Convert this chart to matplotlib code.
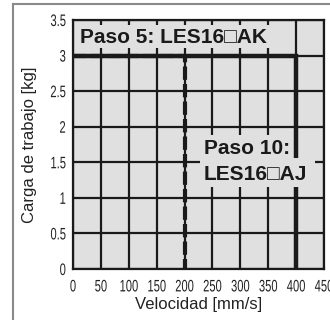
import matplotlib
matplotlib.use("Agg")
import matplotlib.pyplot as plt
from matplotlib.lines import Line2D
from matplotlib.patches import Rectangle
from matplotlib.patheffects import AbstractPathEffect
from matplotlib.transforms import Affine2D

# Load limit curves for the two lead variants
speed_lead10 = [0, 400, 400]
load_lead10 = [3, 3, 0]
speed_lead5 = [0, 200, 200]
load_lead5 = [3, 3, 0]

x_ticks = [0, 50, 100, 150, 200, 250, 300, 350, 400, 450]
y_ticks = [0, 0.5, 1, 1.5, 2, 2.5, 3, 3.5]
y_tick_labels = ["0", "0.5", "1", "1.5", "2", "2.5", "3", "3.5"]

label_lead5 = "Paso 5: LES16\u25a1AK"
label_lead10_a = "Paso 10:"
label_lead10_b = "LES16\u25a1AJ"

BG = "#e0e0e0"
INK = "#1a1a1a"
SANS = ["Liberation Sans", "DejaVu Sans"]


class Squeeze(AbstractPathEffect):
    """Draw text horizontally condensed, keeping a chosen anchor fixed."""

    def __init__(self, sx=0.72, anchor="center"):
        super().__init__()
        self.sx = sx
        self.anchor = anchor

    def draw_path(self, renderer, gc, tpath, affine, rgbFace=None):
        ext = tpath.get_extents()
        x0, x1 = ext.x0, ext.x1
        if self.anchor == "center":
            fx = (x0 + x1) / 2
        elif self.anchor == "right":
            fx = x1
        else:
            fx = x0
        squeeze = Affine2D().translate(-fx, 0).scale(self.sx, 1).translate(fx, 0)
        renderer.draw_path(gc, tpath, squeeze + affine, rgbFace)


fig = plt.figure(figsize=(3.3, 3.2), dpi=100)
ax = fig.add_axes([73 / 330, 1 - 269 / 320, (324 - 73) / 330, (269 - 20) / 320])
ax.set_facecolor(BG)
ax.set_xlim(0, 450)
ax.set_ylim(0, 3.5)

ax.set_xticks(x_ticks)
ax.set_xticklabels([str(v) for v in x_ticks], family=SANS, fontsize=12)
ax.set_yticks(y_ticks)
ax.set_yticklabels(y_tick_labels, family=SANS, fontsize=12)
ax.tick_params(axis="x", length=0, pad=7.5, colors="#222222")
ax.tick_params(axis="y", length=0, pad=5.0, colors="#222222")
for lbl in ax.get_xticklabels():
    lbl.set_path_effects([Squeeze(0.67, "center")])
for lbl in ax.get_yticklabels():
    lbl.set_path_effects([Squeeze(0.67, "right")])

ax.grid(True, color=INK, linewidth=1.6)
ax.set_axisbelow(True)
for sp in ax.spines.values():
    sp.set_color(INK)
    sp.set_linewidth(1.6)
    sp.set_zorder(5)

ax.plot(speed_lead10, load_lead10, color=INK, linewidth=3.2,
        solid_joinstyle="miter", zorder=3)
ax.plot(speed_lead5, load_lead5, color=INK, linewidth=3.0,
        dashes=(3.2, 1.0), zorder=3)

# label plates that mask the grid behind the captions
for (x0, y0, x1, y1) in [(3.6, 3.11, 389, 3.43),
                         (227.6, 1.55, 394, 1.88),
                         (227.6, 1.15, 433.7, 1.56)]:
    ax.add_patch(Rectangle((x0, y0), x1 - x0, y1 - y0, facecolor=BG,
                           edgecolor="none", zorder=3.5))

ax.text(12.5, 3.25, label_lead5, ha="left", va="center", fontsize=15,
        fontweight="bold", family=SANS, color=INK, zorder=4)
ax.text(235, 1.69, label_lead10_a, ha="left", va="center", fontsize=15,
        fontweight="bold", family=SANS, color=INK, zorder=4)
ax.text(235, 1.33, label_lead10_b, ha="left", va="center", fontsize=15,
        fontweight="bold", family=SANS, color=INK, zorder=4)

ax.set_xlabel("Velocidad [mm/s]", family=SANS, fontsize=12, color="#222222",
              labelpad=2)
ax.set_ylabel("Carga de trabajo [kg]", family=SANS, fontsize=12,
              color="#222222", labelpad=4)

# outer frame
fig.add_artist(Line2D([13 / 330, 13 / 330], [0, 1 - 4 / 320],
                      color="#8a8a8a", linewidth=1.5))
fig.add_artist(Line2D([13 / 330, 1], [1 - 4 / 320, 1 - 4 / 320],
                      color="#8a8a8a", linewidth=1.5))

fig.savefig("out.png", dpi=100, facecolor="white")
